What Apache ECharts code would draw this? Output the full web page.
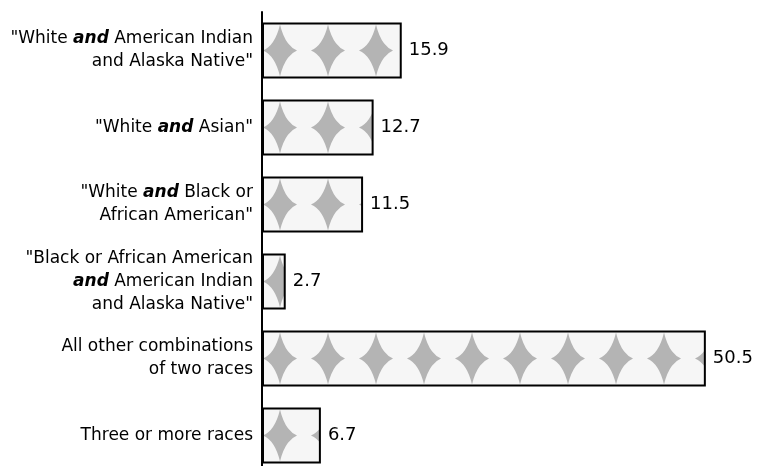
<!DOCTYPE html>
<html><head><meta charset="utf-8">
<script src="https://cdn.jsdelivr.net/npm/echarts@6/dist/echarts.min.js"></script>
<style>html,body{margin:0;padding:0;background:#fff}#c{width:757px;height:466px}</style>
</head><body><div id="c"></div>
<script>
const categories = [
  '"White {b|and} American Indian\nand Alaska Native"',
  '"White {b|and} Asian"',
  '"White {b|and} Black or\nAfrican American"',
  '"Black or African American\n{b|and} American Indian\nand Alaska Native"',
  'All other combinations\nof two races',
  'Three or more races'
];
const values = [15.9, 12.7, 11.5, 2.7, 50.5, 6.7];

// decorative stipple pattern tile
function makeTile() {
  const w = 48, h = 77;
  const cv = document.createElement('canvas');
  cv.width = w; cv.height = h;
  const ctx = cv.getContext('2d');
  ctx.fillStyle = '#f6f6f6';
  ctx.fillRect(0, 0, w, h);
  function star(cx, cy) {
    ctx.beginPath();
    ctx.moveTo(cx, cy - 26);
    ctx.quadraticCurveTo(cx + 5, cy - 5, cx + 17, cy);
    ctx.quadraticCurveTo(cx + 5, cy + 5, cx, cy + 26);
    ctx.quadraticCurveTo(cx - 5, cy + 5, cx - 17, cy);
    ctx.quadraticCurveTo(cx - 5, cy - 5, cx, cy - 26);
    ctx.closePath();
    ctx.fillStyle = '#b4b4b4';
    ctx.fill();
  }
  const cy = 50.5, cx = 40;
  [-77, 0, 77].forEach(dy => [-48, 0, 48].forEach(dx => star(cx + dx, cy + dy)));
  return cv;
}

const chart = echarts.init(document.getElementById('c'), null, {renderer: 'canvas'});
const font = 'DejaVu Sans';
chart.setOption({
  animation: false,
  backgroundColor: '#fff',
  grid: {left: 262, top: 12, width: 483.4, height: 462, containLabel: false, outerBoundsMode: 'none'},
  xAxis: {type: 'value', min: 0, max: 55, show: false},
  yAxis: {
    type: 'category', data: categories, inverse: true,
    axisLine: {show: true, lineStyle: {color: '#000', width: 2}},
    axisTick: {show: false},
    axisLabel: {
      color: '#000', fontFamily: font, fontSize: 17, lineHeight: 23, margin: 9, align: 'right',
      rich: {b: {fontFamily: font, fontSize: 17, fontWeight: 'bold', fontStyle: 'italic', color: '#000', lineHeight: 23}}
    }
  },
  series: [{
    type: 'bar', data: values, barWidth: 56,
    itemStyle: {color: {image: makeTile(), repeat: 'repeat'}, borderColor: '#000', borderWidth: 2},
    label: {show: true, position: 'right', distance: 7, color: '#000', fontFamily: font, fontSize: 18,
      formatter: p => p.value.toFixed(1)}
  }]
});
</script></body></html>
